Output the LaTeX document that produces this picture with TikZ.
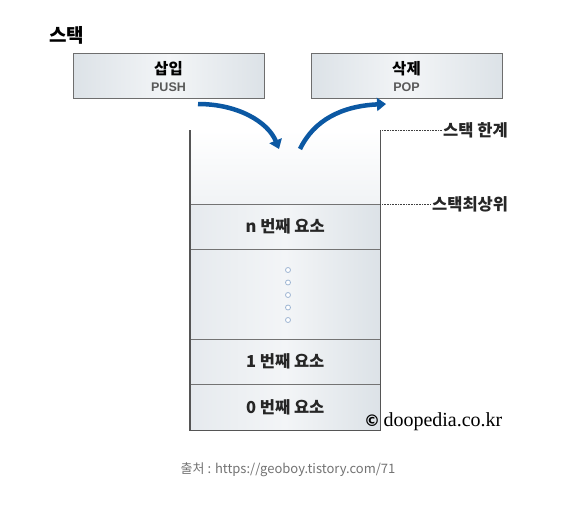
\documentclass[tikz,border=0pt]{standalone}
\usepackage{fontspec}
\setmainfont{Noto Sans CJK KR}
\newfontfamily\serifc{Liberation Serif}
\newfontfamily\symc{DejaVu Sans}
\newfontfamily\latinc{Liberation Sans}
\usetikzlibrary{arrows.meta}
\definecolor{arrowblue}{HTML}{0B58A3}
\definecolor{boxedge}{HTML}{6E6E6E}
\definecolor{sideedge}{HTML}{555555}
\definecolor{cellL}{HTML}{E6EAEE}
\definecolor{cellM}{HTML}{F3F5F7}
\definecolor{cellR}{HTML}{DCE2E7}
\definecolor{dotblue}{HTML}{9DB5D3}
\tikzset{
  opbox/.style={draw=boxedge, line width=0.9pt, minimum width=191pt, minimum height=45pt,
    left color=cellR, right color=cellR, middle color=cellM, inner sep=0pt},
  cell/.style={minimum width=190pt, inner sep=0pt, left color=cellL, right color=cellR, middle color=cellM},
  celltext/.style={font=\fontsize{16.5}{18}\selectfont\bfseries, text=black!85},
  sidetext/.style={font=\fontsize{16.5}{18}\selectfont\bfseries, text=black!85, anchor=west, inner sep=1pt},
  optext/.style={font=\latinc\fontsize{12.5}{13}\selectfont\bfseries, text=black!65, inner sep=0pt},
  leader/.style={densely dotted, line width=0.6pt, black!75},
  pusharrow/.style={arrowblue, line width=4.5pt, -{Triangle[length=9pt,width=13pt]}},
  dotc/.style={circle, draw=dotblue, fill=white, line width=0.8pt, minimum size=5pt, inner sep=0pt},
  divider/.style={draw=black!55, line width=0.9pt},
  stackside/.style={draw=sideedge, line width=1.6pt}
}
\begin{document}
\begin{tikzpicture}[x=1pt,y=-1pt]
\useasboundingbox[fill=white] (0,0) rectangle (572,514);
% title
\node[font=\fontsize{19}{20}\selectfont\bfseries, anchor=west, inner sep=0pt] (title) at (49,35) {스택};
% operation boxes
\node[opbox] (push) at (168.5,75.5) {};
\node[font=\fontsize{15.5}{16}\selectfont\bfseries, inner sep=0pt] (pushk) at (168.5,68.5) {삽입};
\node[optext] (pushe) at (168.5,87.5) {PUSH};
\node[opbox] (pop) at (406.5,75.5) {};
\node[font=\fontsize{15.5}{16}\selectfont\bfseries, inner sep=0pt] (popk) at (406.5,68.5) {삭제};
\node[optext] (pope) at (406.5,87.5) {POP};
% stack body
\node[cell, minimum height=74pt, top color=white, bottom color=cellM!90!cellR, anchor=north west] (free) at (190,130) {};
\node[cell, minimum height=45pt, anchor=north west] (cn) at (190,204) {};
\node[cell, minimum height=90pt, anchor=north west] (cdots) at (190,249) {};
\node[cell, minimum height=45pt, anchor=north west] (c1) at (190,339) {};
\node[cell, minimum height=46pt, anchor=north west] (c0) at (190,384) {};
\node[celltext] (tn) at (cn.center) {n 번째 요소};
\node[celltext] (t1) at (c1.center) {1 번째 요소};
\node[celltext] (t0) at (c0.center) {0 번째 요소};
\foreach \yy [count=\i] in {270,282.5,295,307.5,320} \node[dotc] (d\i) at (288,\yy) {};
% dividers
\draw[divider] (cn.north west) -- (cn.north east);
\draw[divider] (cdots.north west) -- (cdots.north east);
\draw[divider] (c1.north west) -- (c1.north east);
\draw[divider] (c0.north west) -- (c0.north east);
\draw[stackside] (free.north west) -- (c0.south west) -- (c0.south east) -- (free.north east);
% leaders
\node[sidetext] (limit) at (442,130) {스택 한계};
\node[sidetext] (top) at (431,204) {스택최상위};
\draw[leader] (free.north east) -- (limit.west);
\draw[leader] (cn.north east) -- (top.west);
% arrows
\coordinate (pushs) at (198,104);
\coordinate (pusht) at (279,149);
\coordinate (pops) at (300,149);
\coordinate (popt) at (386,104);
\draw[pusharrow] (pushs) .. controls (238,104) and (268,122) .. (pusht);
\draw[pusharrow] (pops) .. controls (314,120) and (342,106) .. (popt);
% copyright
\node[font=\serifc\fontsize{20}{21}\selectfont, anchor=west, inner sep=0pt] (copy) at (364,422) {{\symc\bfseries\fontsize{16}{16}\selectfont ©}\,doopedia.co.kr};
% source
\node[font=\fontsize{13}{14}\selectfont, text=black!55, inner sep=0pt] (src) at (288,470) {출처 : https://geoboy.tistory.com/71};
\end{tikzpicture}
\end{document}
